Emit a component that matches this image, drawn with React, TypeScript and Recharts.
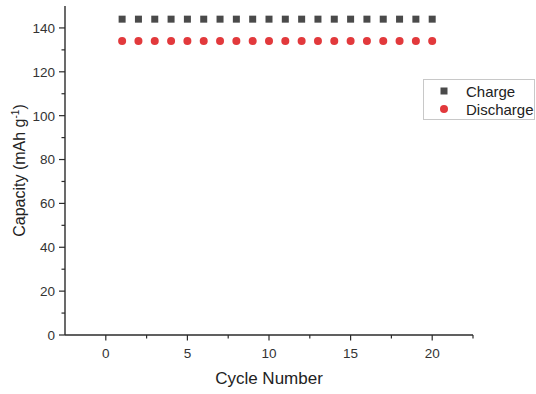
import React from "react";
import { ScatterChart, Scatter, XAxis, YAxis } from "recharts";

// Cycle index and the measured capacities (mAh g-1)
const cycles = [1, 2, 3, 4, 5, 6, 7, 8, 9, 10, 11, 12, 13, 14, 15, 16, 17, 18, 19, 20];
const chargeCapacity = [144, 144, 144, 144, 144, 144, 144, 144, 144, 144, 144, 144, 144, 144, 144, 144, 144, 144, 144, 144];
const dischargeCapacity = [134, 134, 134, 134, 134, 134, 134, 134, 134, 134, 134, 134, 134, 134, 134, 134, 134, 134, 134, 134];

// Major ticks carry labels, minor ticks sit between them
const xTicks = [0, 2.5, 5, 7.5, 10, 12.5, 15, 17.5, 20, 22.5];
const xLabelled = [0, 5, 10, 15, 20];
const yTicks = [0, 10, 20, 30, 40, 50, 60, 70, 80, 90, 100, 110, 120, 130, 140];
const yLabelled = [0, 20, 40, 60, 80, 100, 120, 140];

const seriesNames = ["Charge", "Discharge"];

const chargeData = cycles.map((c, i) => ({ cycle: c, capacity: chargeCapacity[i] }));
const dischargeData = cycles.map((c, i) => ({ cycle: c, capacity: dischargeCapacity[i] }));

const FONT = '"Liberation Sans", Arial, sans-serif';
const AXIS = "#2b2b2b";
const CHARGE_COLOR = "#4a4a4a";
const DISCHARGE_COLOR = "#e2393c";

const SquareDot = (props: any) => {
  const { cx, cy } = props;
  if (cx == null || cy == null) return null;
  return <rect x={cx - 3.5} y={cy - 3.5} width={7} height={7} fill={CHARGE_COLOR} />;
};

const CircleDot = (props: any) => {
  const { cx, cy } = props;
  if (cx == null || cy == null) return null;
  return <circle cx={cx} cy={cy} r={4} fill={DISCHARGE_COLOR} />;
};

const YTick = (props: any) => {
  const { x, y, payload } = props;
  const major = yLabelled.includes(payload.value);
  return (
    <g>
      <line x1={x - (major ? 6 : 3.5)} x2={x} y1={y} y2={y} stroke={AXIS} strokeWidth={1.2} />
      {major && (
        <text x={x - 10} y={y} dy="0.36em" textAnchor="end" fontSize={13.5} fill="#333" fontFamily={FONT}>
          {payload.value}
        </text>
      )}
    </g>
  );
};

const XTick = (props: any) => {
  const { x, y, payload } = props;
  const major = xLabelled.includes(payload.value);
  return (
    <g>
      <line x1={x} x2={x} y1={y} y2={y + (major ? 5.5 : 3.5)} stroke={AXIS} strokeWidth={1.2} />
      {major && (
        <text x={x} y={y + 18} dy="0.36em" textAnchor="middle" fontSize={13.5} fill="#333" fontFamily={FONT}>
          {payload.value}
        </text>
      )}
    </g>
  );
};

const LegendBox = () => (
  <div
    style={{
      position: "absolute",
      left: 423,
      top: 79,
      border: "1px solid #c8c8c8",
      background: "#fff",
      width: 112,
      height: 41,
      boxSizing: "border-box",
      fontFamily: FONT,
      fontSize: 15,
      color: "#222",
      paddingTop: 2,
    }}
  >
    {seriesNames.map((name, i) => (
      <div key={name} style={{ display: "flex", alignItems: "center", height: 18 }}>
        <svg width={42} height={18}>
          {i === 0 ? (
            <rect x={16.5} y={5.5} width={7} height={7} fill={CHARGE_COLOR} />
          ) : (
            <circle cx={20} cy={9} r={4} fill={DISCHARGE_COLOR} />
          )}
        </svg>
        <span>{name}</span>
      </div>
    ))}
  </div>
);

export default function App() {
  return (
    <div style={{ position: "absolute", left: 0, top: 0, width: 536, height: 394, background: "#fff" }}>
      <ScatterChart width={536} height={394} margin={{ top: 6, right: 63, bottom: 0, left: 0 }}>
        <XAxis
          type="number"
          dataKey="cycle"
          domain={[-2.5, 22.5]}
          ticks={xTicks}
          interval={0}
          allowDataOverflow
          height={59}
          tickSize={0}
          tickMargin={0}
          tickLine={false}
          tick={<XTick />}
          axisLine={{ stroke: AXIS, strokeWidth: 1.4 }}
          label={{
            content: (p: any) => {
              const vb = p.viewBox;
              return (
                <text x={vb.x + vb.width / 2} y={vb.y + 43} dy="0.36em" textAnchor="middle" fontSize={17} fill="#222" fontFamily={FONT}>
                  Cycle Number
                </text>
              );
            },
          }}
        />
        <YAxis
          type="number"
          dataKey="capacity"
          domain={[0, 150]}
          ticks={yTicks}
          interval={0}
          allowDataOverflow
          width={65}
          tickSize={0}
          tickMargin={0}
          tickLine={false}
          tick={<YTick />}
          axisLine={{ stroke: AXIS, strokeWidth: 1.4 }}
          label={{
            content: (p: any) => {
              const vb = p.viewBox;
              const cx = vb.x + 19;
              const cy = vb.y + vb.height / 2;
              return (
                <text
                  x={cx}
                  y={cy}
                  dy="0.36em"
                  textAnchor="middle"
                  fontSize={16}
                  fill="#222"
                  fontFamily={FONT}
                  transform={`rotate(-90 ${cx} ${cy})`}
                >
                  Capacity (mAh g
                  <tspan dy={-6} fontSize={10}>-1</tspan>
                  <tspan dy={6}>)</tspan>
                </text>
              );
            },
          }}
        />
        <Scatter name={seriesNames[0]} data={chargeData} shape={<SquareDot />} fill={CHARGE_COLOR} isAnimationActive={false} />
        <Scatter name={seriesNames[1]} data={dischargeData} shape={<CircleDot />} fill={DISCHARGE_COLOR} isAnimationActive={false} />
      </ScatterChart>
      <LegendBox />
    </div>
  );
}
